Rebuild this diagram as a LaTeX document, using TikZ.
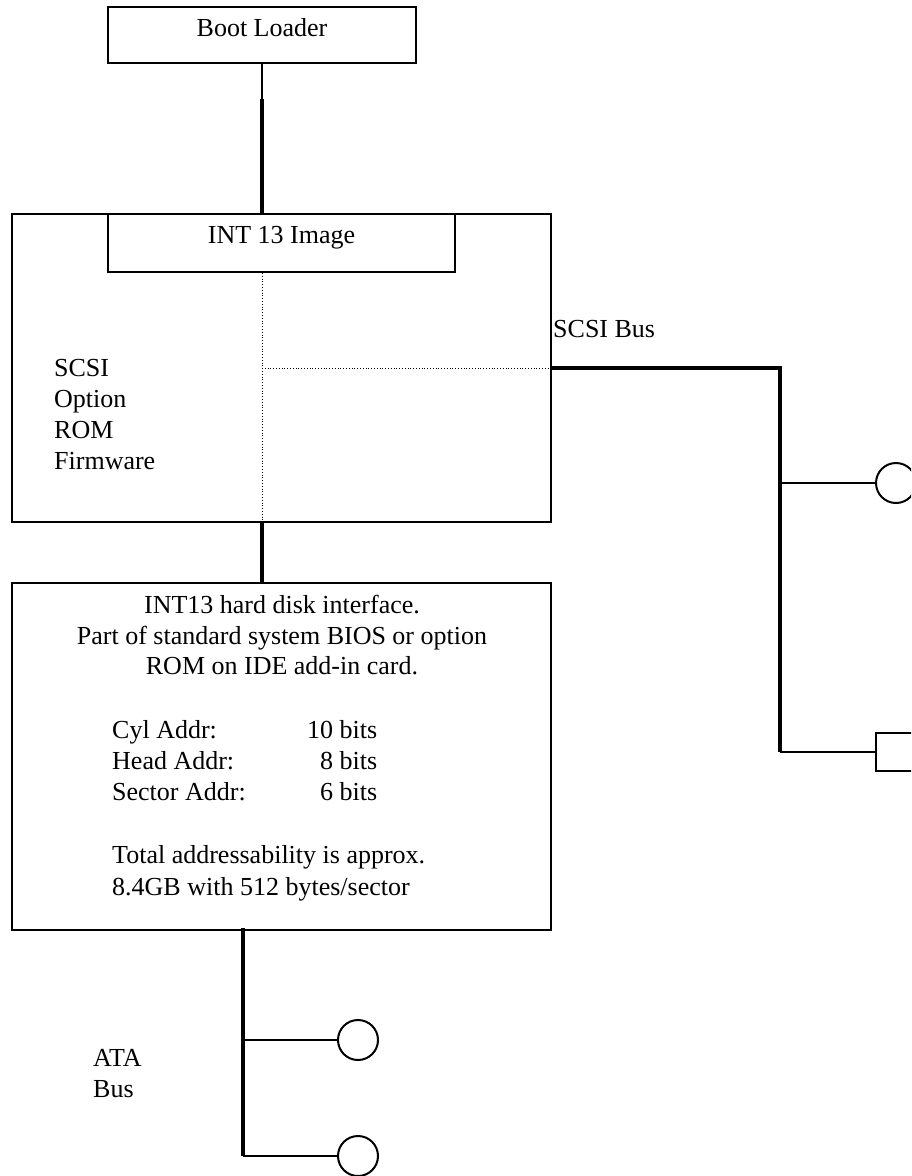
\documentclass[tikz,border=0pt]{standalone}
\usepackage{fontspec}
\setmainfont{Liberation Serif}
\usetikzlibrary{positioning,calc}

\begin{document}
\begin{tikzpicture}[x=1pt, y=-1pt,
    every node/.style={font=\fontsize{26}{31}\selectfont},
    box/.style={draw, line width=2pt, inner sep=0pt},
    bus/.style={line width=3.2pt},
    tap/.style={line width=2pt},
    divider/.style={line width=0.8pt, dotted},
    device/.style={draw, tap, inner sep=0pt}]
    \clip (0,0) rectangle (911,1176);

    % boxes
    \node[box, minimum width=308pt, text height=29pt, text depth=27pt] (boot) at (262,35) {Boot Loader};
    \node[box, minimum width=539pt, minimum height=308pt] (rom) at (281.5,368) {};
    \node[box, fill=white, minimum width=347pt, text height=29pt, text depth=29pt] (image) at (281.5,243) {INT 13 Image};
    \node[box, minimum width=539pt, minimum height=347pt] (int13) at (281.5,756.5) {};

    \draw[divider] (image.south -| boot.south) -- (rom.south -| boot.south);
    \draw[divider] (boot.south |- rom.east) -- (rom.east);

    % texts
    \node[anchor=north west, align=left, inner sep=0pt] (romtext) at (54,359.5) {SCSI\\Option\\ROM\\Firmware};
    \node[anchor=base west, inner sep=0pt] (scsilabel) at (553,337) {SCSI Bus};
    \node[anchor=base, inner sep=0pt] (info1) at (282,613) {INT13 hard disk interface.};
    \node[anchor=base, inner sep=0pt] (info2) at (282,644) {Part of standard system BIOS or option};
    \node[anchor=base, inner sep=0pt] (info3) at (282,674) {ROM on IDE add-in card.};
    \node[anchor=base west, inner sep=0pt] (cyl) at (112,738) {Cyl Addr:};
    \node[anchor=base west, inner sep=0pt] (cylbits) at (307,738) {10 bits};
    \node[anchor=base west, inner sep=0pt] (head) at (112,769) {Head Addr:};
    \node[anchor=base west, inner sep=0pt] (headbits) at (307,769) {\phantom{1}8 bits};
    \node[anchor=base west, inner sep=0pt] (sector) at (112,800) {Sector Addr:};
    \node[anchor=base west, inner sep=0pt] (sectorbits) at (307,800) {\phantom{1}6 bits};
    \node[anchor=base west, inner sep=0pt] (total1) at (112,863) {Total addressability is approx.};
    \node[anchor=base west, inner sep=0pt] (total2) at (112,895) {8.4GB with 512 bytes/sector};
    \node[anchor=north west, align=left, inner sep=0pt] (atalabel) at (93,1049.4) {ATA\\Bus};

    % boot loader to option ROM
    \coordinate (bootjoin) at (262,99);
    \draw[line width=1.5pt] (boot.south) -- (bootjoin);
    \draw[bus] (bootjoin) -- (rom.north -| boot.south);
    \draw[bus] (rom.south -| boot.south) -- (int13.north -| boot.south);

    % SCSI bus
    \coordinate (scsitop) at (780,368);
    \coordinate (scsibot) at (780,752);
    \node[device, circle, minimum size=40pt] (scsidisk) at (896,483) {};
    \node[device, minimum width=40pt, minimum height=38pt] (scsitape) at (896,752) {};
    \draw[bus] (rom.east) -- (scsitop) -- (scsibot);
    \draw[tap] (scsitop |- scsidisk) -- (scsidisk.west);
    \draw[tap] (scsibot) -- (scsitape.west);

    % ATA bus
    \coordinate (atatop) at (243,928);
    \node[device, circle, minimum size=40pt] (atadisk1) at (358,1040) {};
    \node[device, circle, minimum size=40pt] (atadisk2) at (358,1156) {};
    \draw[bus] (atatop) -- (atatop |- atadisk2);
    \draw[tap] (atatop |- atadisk1) -- (atadisk1.west);
    \draw[tap] (atatop |- atadisk2) -- (atadisk2.west);
\end{tikzpicture}
\end{document}
